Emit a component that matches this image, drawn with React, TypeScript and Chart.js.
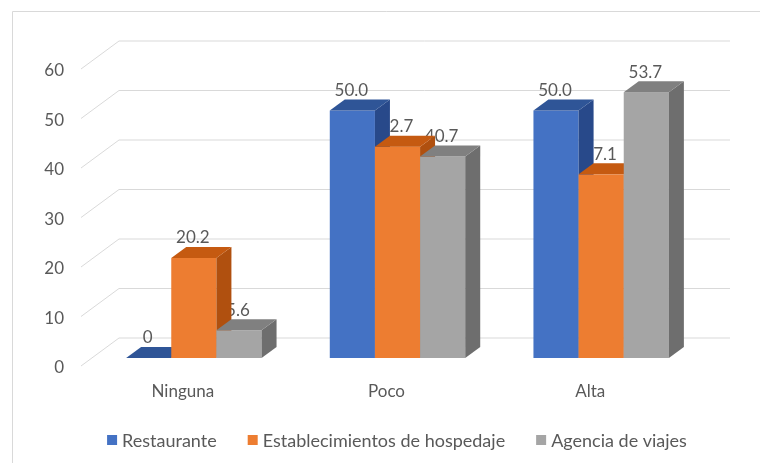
import React, { useEffect, useRef } from "react";
import { Chart, registerables } from "chart.js";

Chart.register(...registerables);

const categories = ["Ninguna", "Poco", "Alta"];
const seriesNames = ["Restaurante", "Establecimientos de hospedaje", "Agencia de viajes"];
const restaurante = [0, 50.0, 50.0];
const hospedaje = [20.2, 42.7, 37.1];
const agencia = [5.6, 40.7, 53.7];
const labelsRestaurante = ["0", "50.0", "50.0"];
const labelsHospedaje = ["20.2", "42.7", "37.1"];
const labelsAgencia = ["5.6", "40.7", "53.7"];
const yTicks = [0, 10, 20, 30, 40, 50, 60];

const FRONT = ["#4472C4", "#ED7D31", "#A5A5A5"];
const TOP = ["#2F5597", "#C55A11", "#808080"];
const SIDE = ["#28498A", "#B0500F", "#6E6E6E"];
const TEXT = "#595959";
const GRID = "#D9D9D9";
const FONT = "Lato, 'Open Sans', sans-serif";

const DX = 15;
const DY = -11;

const threeD = {
  id: "threeD",
  beforeDatasetsDraw(chart: any) {
    const ctx = chart.ctx as CanvasRenderingContext2D;
    const ys = chart.scales.y;
    const xs = chart.scales.x;
    const area = chart.chartArea;
    ctx.save();

    // frame
    ctx.strokeStyle = GRID;
    ctx.lineWidth = 1;
    ctx.beginPath();
    ctx.moveTo(12.5, 463);
    ctx.lineTo(12.5, 11.5);
    ctx.lineTo(760, 11.5);
    ctx.stroke();

    // back wall and side wall gridlines
    ctx.strokeStyle = GRID;
    yTicks.forEach((v) => {
      const p = ys.getPixelForValue(v);
      ctx.beginPath();
      ctx.moveTo(area.left - 11, p + 8);
      ctx.lineTo(area.left + 27, p - 20);
      ctx.lineTo(area.right + 27, p - 20);
      ctx.stroke();
    });

    // y tick labels
    ctx.fillStyle = TEXT;
    ctx.font = `17px ${FONT}`;
    ctx.textAlign = "right";
    ctx.textBaseline = "middle";
    yTicks.forEach((v) => {
      const p = ys.getPixelForValue(v);
      ctx.fillText(String(v), 64, p + 10);
    });

    // x category labels
    ctx.textAlign = "center";
    categories.forEach((c, i) => {
      ctx.fillText(c, xs.getPixelForValue(i) - 11, area.bottom + 34);
    });

    const allLabels = [labelsRestaurante, labelsHospedaje, labelsAgencia];
    // data labels (drawn before bars so bars can occlude them)
    for (let d = 0; d < 3; d++) {
      const meta = chart.getDatasetMeta(d);
      meta.data.forEach((bar: any, j: number) => {
        const { x, y } = bar.getProps(["x", "y"], true);
        ctx.fillText(allLabels[d][j], x - 1, y - 20);
      });
    }

    // bars, left to right
    for (let j = 0; j < categories.length; j++) {
      for (let d = 0; d < 3; d++) {
        const bar: any = chart.getDatasetMeta(d).data[j];
        const { x, y, base, width } = bar.getProps(["x", "y", "base", "width"], true);
        const l = x - width / 2;
        const r = x + width / 2;
        // front
        ctx.fillStyle = FRONT[d];
        ctx.fillRect(l, y, width, base - y);
        // side
        ctx.fillStyle = SIDE[d];
        ctx.beginPath();
        ctx.moveTo(r, y);
        ctx.lineTo(r + DX, y + DY);
        ctx.lineTo(r + DX, base + DY);
        ctx.lineTo(r, base);
        ctx.closePath();
        ctx.fill();
        // top
        ctx.fillStyle = TOP[d];
        ctx.beginPath();
        ctx.moveTo(l, y);
        ctx.lineTo(r, y);
        ctx.lineTo(r + DX, y + DY);
        ctx.lineTo(l + DX, y + DY);
        ctx.closePath();
        ctx.fill();
      }
    }

    // legend
    ctx.font = `18px ${FONT}`;
    ctx.textAlign = "left";
    const box = 10;
    const gapText = 5;
    const gapItem = 31;
    const widths = seriesNames.map((n) => ctx.measureText(n).width);
    const total = widths.reduce((a, w) => a + box + gapText + w, 0) + gapItem * (seriesNames.length - 1);
    let lx = 397 - total / 2;
    const ly = 440;
    seriesNames.forEach((n, i) => {
      ctx.fillStyle = FRONT[i];
      ctx.fillRect(lx, ly - box / 2, box, box);
      ctx.fillStyle = TEXT;
      ctx.fillText(n, lx + box + gapText, ly + 1);
      lx += box + gapText + widths[i] + gapItem;
    });

    ctx.restore();
    return false;
  },
};

export default function App() {
  const ref = useRef<HTMLCanvasElement>(null);
  useEffect(() => {
    document.body.style.margin = "0";
    const chart = new Chart(ref.current!, {
      type: "bar",
      data: {
        labels: categories,
        datasets: [
          { label: seriesNames[0], data: restaurante, backgroundColor: FRONT[0] },
          { label: seriesNames[1], data: hospedaje, backgroundColor: FRONT[1] },
          { label: seriesNames[2], data: agencia, backgroundColor: FRONT[2] },
        ],
      },
      options: {
        responsive: false,
        animation: false,
        devicePixelRatio: 1,
        layout: { padding: { left: 92, right: 57, top: 61, bottom: 105 } },
        datasets: { bar: { barPercentage: 1, categoryPercentage: 0.665 } },
        scales: {
          x: { display: false },
          y: { display: false, min: 0, max: 60, ticks: { stepSize: 10 } },
        },
        plugins: { legend: { display: false }, tooltip: { enabled: false } },
      },
      plugins: [threeD],
    });
    return () => chart.destroy();
  }, []);
  return <canvas ref={ref} width={760} height={463} style={{ display: "block" }} />;
}
